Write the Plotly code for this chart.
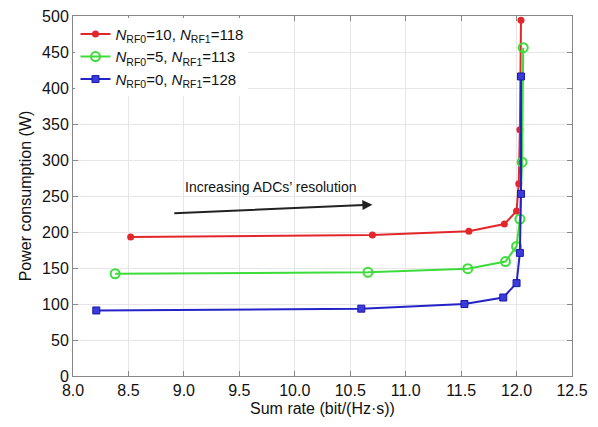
import plotly.graph_objects as go

red_x = [8.52, 10.70, 11.57, 11.89, 12.00, 12.02, 12.03, 12.04]
red_y = [193, 196, 201, 211, 229, 267, 342, 494]
green_x = [8.38, 10.66, 11.56, 11.90, 12.00, 12.03, 12.05, 12.06]
green_y = [142, 144, 149, 159, 180, 218, 297, 456]
blue_x = [8.21, 10.60, 11.53, 11.88, 12.00, 12.03, 12.04, 12.04]
blue_y = [91, 93.5, 100, 109, 129, 171, 253, 416]

names = ["<i>N</i><sub>RF0</sub>=10, <i>N</i><sub>RF1</sub>=118",
         "<i>N</i><sub>RF0</sub>=5, <i>N</i><sub>RF1</sub>=113",
         "<i>N</i><sub>RF0</sub>=0, <i>N</i><sub>RF1</sub>=128"]

fig = go.Figure()
fig.add_trace(go.Scatter(x=red_x, y=red_y, mode="lines+markers", name=names[0],
                         line=dict(color="#e3262b", width=2),
                         marker=dict(symbol="circle", size=7, color="#e3262b")))
fig.add_trace(go.Scatter(x=green_x, y=green_y, mode="lines+markers", name=names[1],
                         line=dict(color="#3ddc3a", width=2),
                         marker=dict(symbol="circle-open", size=9, color="#3ddc3a",
                                     line=dict(width=2))))
fig.add_trace(go.Scatter(x=blue_x, y=blue_y, mode="lines+markers", name=names[2],
                         line=dict(color="#2323c8", width=2),
                         marker=dict(symbol="square", size=7, color="#3b3bdc",
                                     line=dict(color="#1a1aa8", width=1))))

fig.add_annotation(x=10.70, y=238, ax=8.90, ay=226, xref="x", yref="y",
                   axref="x", ayref="y", showarrow=True, arrowhead=2,
                   arrowsize=1, arrowwidth=2, arrowcolor="#222222", text="")
fig.add_annotation(x=9.78, y=262, xref="x", yref="y", showarrow=False,
                   text="Increasing ADCs’ resolution",
                   font=dict(size=14, color="#111111"))

axis_common = dict(showline=True, linecolor="#888888", linewidth=1, mirror="ticks",
                   ticks="inside", ticklen=5, tickcolor="#888888",
                   showgrid=True, gridcolor="#e6e6e6", gridwidth=1, zeroline=False,
                   automargin=False, ticklabeloverflow="allow",
                   tickfont=dict(size=16, color="#111111"))

fig.update_layout(
    width=598, height=427,
    margin=dict(l=65, r=34, t=8, b=59),
    paper_bgcolor="white", plot_bgcolor="white",
    font=dict(family="Liberation Sans, Arial, sans-serif", color="#111111"),
    xaxis=dict(range=[8.0, 12.5], dtick=0.5, tickformat=".1f",
               title=dict(text="Sum rate (bit/(Hz·s))", font=dict(size=16), standoff=4),
               **axis_common),
    yaxis=dict(range=[0, 500], dtick=50,
               title=dict(text="Power consumption (W)", font=dict(size=16), standoff=6),
               **axis_common),
    legend=dict(x=0.005, y=0.995, xanchor="left", yanchor="top",
                bgcolor="white", borderwidth=0, font=dict(size=15),
                tracegroupgap=0, itemwidth=30),
    showlegend=True,
)

fig.write_html("out.html")
